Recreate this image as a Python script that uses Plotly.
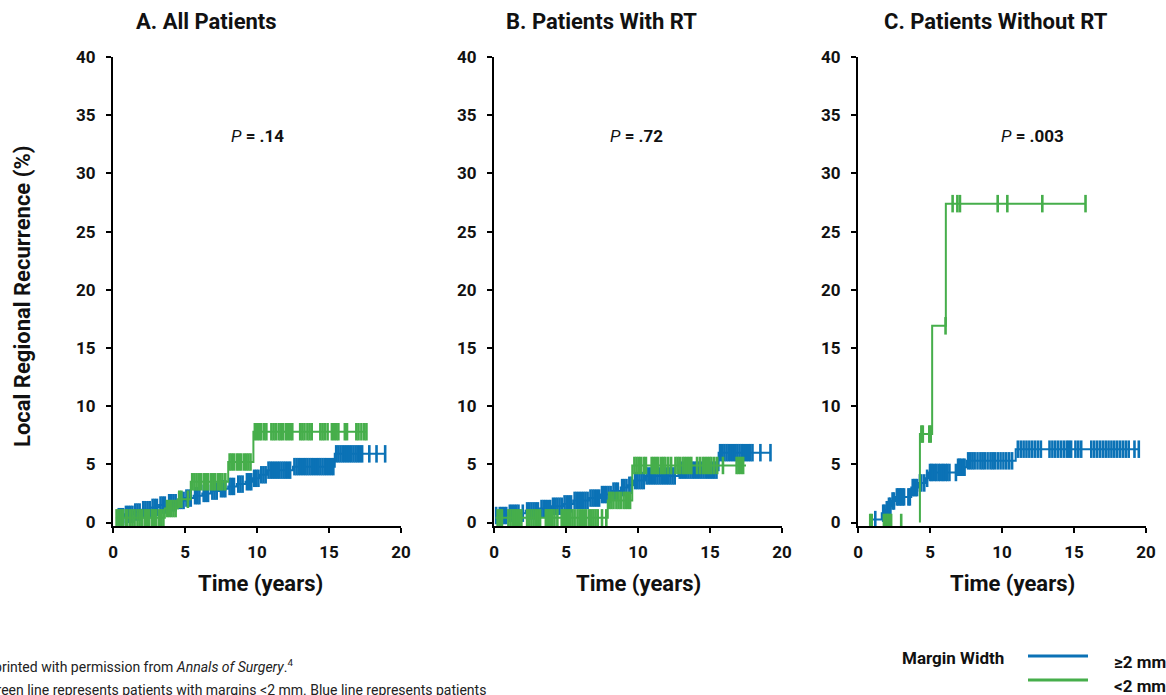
import numpy as np
import plotly.graph_objects as go

W, H = 1166, 695
BLUE = "#0B72B6"
GREEN = "#46AE4B"
FONT = "Roboto, Arial, sans-serif"
NARROW = "Liberation Sans Narrow, Roboto, Arial, sans-serif"

# ---------------- data ----------------
panel_titles = ["A. All Patients", "B. Patients With RT", "C. Patients Without RT"]
p_values = [".14", ".72", ".003"]
y_ticks = [0, 5, 10, 15, 20, 25, 30, 35, 40]
x_ticks = [0, 5, 10, 15, 20]
legend_labels = ["≥2 mm", "<2 mm"]

# Panel A - margins >=2 mm (blue)
a_ge2_t = [0.3, 0.8, 1.4, 2.0, 2.6, 3.2, 3.8, 4.5, 5.0, 5.6, 6.2, 6.8, 7.4, 8.0, 8.6, 9.2, 9.7, 10.2, 10.7, 12.5, 15.4]
a_ge2_v = [0.5, 0.7, 0.9, 1.1, 1.3, 1.5, 1.7, 1.9, 2.1, 2.3, 2.5, 2.7, 2.9, 3.1, 3.3, 3.5, 3.8, 4.1, 4.5, 4.8, 5.9]
a_ge2_end = 18.9
a_ge2_cens = [0.4, 0.55, 0.7, 0.9, 1.05, 1.2, 1.35, 1.55, 1.7, 1.85, 2.1, 2.25, 2.4, 2.55, 2.75, 2.9, 3.05,
              3.3, 3.45, 3.6, 3.9, 4.05, 4.2, 4.35, 4.6, 4.75, 4.9, 5.1, 5.25, 5.4, 5.7, 5.85, 6.0, 6.3, 6.45,
              6.6, 6.9, 7.05, 7.2, 7.5, 7.65, 7.8, 8.1, 8.25, 8.4, 8.7, 8.85, 9.0, 9.3, 9.45, 9.6, 9.8, 9.95,
              10.1, 10.3, 10.45, 10.6, 10.8, 10.95, 11.1, 11.25, 11.4, 11.55, 11.7, 11.85, 12.0, 12.15, 12.3,
              12.6, 12.75, 12.9, 13.05, 13.2, 13.35, 13.5, 13.65, 13.8, 13.95, 14.1, 14.25, 14.4, 14.55, 14.7,
              14.85, 15.0, 15.15, 15.3, 15.5, 15.65, 15.8, 15.95, 16.1, 16.25, 16.4, 16.55, 16.7, 16.85, 17.0,
              17.15, 17.3, 17.8, 18.3, 18.9]

# Panel A - margins <2 mm (green)
a_lt2_t = [0.2, 3.6, 4.5, 5.4, 8.0, 9.75]
a_lt2_v = [0.4, 1.2, 2.0, 3.5, 5.2, 7.8]
a_lt2_end = 17.6
a_lt2_cens = [0.25, 0.4, 0.55, 0.7, 0.9, 1.0, 1.2, 1.35, 1.5, 1.7, 1.85, 2.0, 2.2, 2.35, 2.5, 2.7, 2.85, 3.0,
              3.2, 3.35, 3.5, 3.75, 3.9, 4.05, 4.2, 4.35, 4.6, 4.75, 5.2, 5.5, 5.65, 5.8, 5.95, 6.1, 6.3, 6.45,
              6.6, 6.8, 6.95, 7.1, 7.3, 7.45, 7.6, 7.8, 8.1, 8.25, 8.4, 8.6, 8.75, 8.9, 9.1, 9.25, 9.4, 9.55,
              9.85, 10.0, 10.15, 10.3, 10.5, 10.65, 11.0, 11.15, 11.3, 11.5, 11.65, 11.8, 12.0, 12.15, 12.3,
              12.45, 13.0, 13.15, 13.3, 13.5, 13.65, 13.8, 14.4, 14.55, 14.7, 14.9, 15.2, 15.35, 15.5, 15.65,
              16.1, 16.25, 16.9, 17.05, 17.25, 17.45, 17.6]

# Panel B - margins >=2 mm (blue)
b_ge2_t = [0.1, 1.0, 2.2, 3.2, 4.0, 4.8, 5.5, 6.6, 7.4, 8.2, 8.8, 9.3, 9.7, 10.5, 12.8, 15.6]
b_ge2_v = [0.6, 0.8, 1.0, 1.2, 1.4, 1.6, 1.9, 2.1, 2.4, 2.7, 3.0, 3.2, 3.6, 4.0, 4.5, 6.0]
b_ge2_end = 19.2
b_ge2_cens = [0.15, 0.4, 0.55, 0.7, 0.85, 1.1, 1.25, 1.4, 1.55, 1.7, 2.0, 2.3, 2.45, 2.6, 2.75, 2.9, 3.05,
              3.3, 3.45, 3.6, 3.75, 3.9, 4.1, 4.25, 4.4, 4.55, 4.7, 4.9, 5.05, 5.2, 5.35, 5.6, 5.75, 5.9,
              6.05, 6.2, 6.35, 6.5, 6.7, 6.85, 7.0, 7.15, 7.3, 7.5, 7.65, 7.8, 7.95, 8.1, 8.3, 8.45, 8.6,
              8.9, 9.05, 9.2, 9.4, 9.55, 9.8, 9.95, 10.1, 10.25, 10.4, 10.6, 10.75, 10.9, 11.05, 11.2, 11.35,
              11.5, 11.65, 11.8, 11.95, 12.1, 12.25, 12.4, 12.55, 12.9, 13.05, 13.2, 13.35, 13.5, 13.65, 13.8,
              13.95, 14.1, 14.25, 14.4, 14.55, 14.7, 14.85, 15.0, 15.15, 15.3, 15.45, 15.7, 15.85, 16.0, 16.15,
              16.3, 16.45, 16.6, 16.75, 16.9, 17.05, 17.2, 17.35, 17.5, 17.65, 17.8, 17.95, 18.5, 19.2]

# Panel B - margins <2 mm (green)
b_lt2_t = [0.1, 7.9, 9.6]
b_lt2_v = [0.4, 1.9, 4.9]
b_lt2_end = 17.5
b_lt2_cens = [0.25, 0.4, 0.55, 1.0, 1.15, 1.3, 1.45, 1.6, 1.75, 1.9, 2.3, 2.45, 2.6, 2.75, 2.9, 3.05, 3.2,
              3.6, 3.75, 3.9, 4.05, 4.2, 4.4, 4.7, 4.85, 5.0, 5.15, 5.3, 5.45, 5.6, 5.8, 5.95, 6.1, 6.25, 6.4,
              6.6, 6.75, 6.9, 7.05, 7.2, 7.5, 7.8, 8.0, 8.15, 8.3, 8.5, 8.65, 8.8, 9.0, 9.15, 9.3, 9.45,
              9.75, 9.9, 10.05, 10.2, 10.4, 10.55, 10.95, 11.1, 11.25, 11.4, 11.6, 11.75, 11.9, 12.1, 12.3,
              12.6, 12.75, 12.9, 13.1, 13.25, 13.4, 13.55, 13.7, 14.1, 14.3, 14.5, 14.65, 14.8, 14.95, 15.1,
              15.3, 15.5, 15.9, 16.85, 17.0, 17.15, 17.3]

# Panel C - margins >=2 mm (blue)
c_ge2_t = [0.9, 1.65, 1.9, 2.1, 2.3, 2.6, 3.7, 4.2, 4.7, 4.9, 6.85, 7.55, 10.95]
c_ge2_v = [0.25, 0.8, 1.1, 1.4, 1.85, 2.2, 3.0, 3.4, 3.8, 4.3, 4.75, 5.3, 6.3]
c_ge2_end = 19.5
c_ge2_cens = [1.2, 1.75, 1.85, 2.0, 2.15, 2.25, 2.4, 2.5, 2.7, 2.8, 2.9, 3.0, 3.1, 3.2, 3.5, 3.6, 3.8, 3.9,
              4.0, 4.1, 4.3, 4.4, 4.6, 4.8, 5.0, 5.1, 5.2, 5.35, 5.45, 5.6, 5.7, 5.85, 5.95, 6.1, 6.2, 6.35,
              6.8, 6.95, 7.05, 7.15, 7.3, 7.4, 7.65, 7.8, 7.95, 8.1, 8.3, 8.5, 8.65, 8.8, 9.0, 9.2, 9.35, 9.5,
              9.7, 9.9, 10.1, 10.3, 10.5, 10.7, 11.1, 11.3, 11.5, 11.7, 11.9, 12.1, 12.3, 12.5, 12.7, 13.3,
              13.5, 13.7, 13.9, 14.1, 14.3, 14.5, 14.65, 14.8, 15.1, 15.3, 15.5, 16.2, 16.4, 16.6, 16.8, 17.0,
              17.2, 17.4, 17.6, 17.8, 18.0, 18.2, 18.4, 18.6, 18.8, 19.2, 19.5]

# Panel C - margins <2 mm (green)
c_lt2_t = [4.3, 4.3, 5.15, 6.1]
c_lt2_v = [0.0, 7.6, 16.9, 27.4]
c_lt2_end = 15.8
c_lt2_cens = [0.85, 0.95, 1.8, 1.9, 2.0, 2.1, 2.2, 2.3, 3.0, 4.4, 4.5, 4.95, 5.05, 6.08,
              6.57, 6.9, 7.08, 9.7, 10.37, 12.8, 15.8]

panels = [
    [(a_ge2_t, a_ge2_v, a_ge2_end, a_ge2_cens, BLUE), (a_lt2_t, a_lt2_v, a_lt2_end, a_lt2_cens, GREEN)],
    [(b_ge2_t, b_ge2_v, b_ge2_end, b_ge2_cens, BLUE), (b_lt2_t, b_lt2_v, b_lt2_end, b_lt2_cens, GREEN)],
    [(c_ge2_t, c_ge2_v, c_ge2_end, c_ge2_cens, BLUE), (c_lt2_t, c_lt2_v, c_lt2_end, c_lt2_cens, GREEN)],
]

# ---------------- layout geometry (pixels) ----------------
x_left = [113, 494, 858]
x_span = 288
y_top, y_bot = 57, 526
title_cx = [206, 601, 996]
xtitle_cx = [260, 638, 1012]
p_x = [10.0, 9.9, 12.15]


def px(x):
    return x / W


def py(y):
    return 1 - y / H


fig = go.Figure()

for i, curves in enumerate(panels):
    sfx = "" if i == 0 else str(i + 1)
    xa, ya = "x" + sfx, "y" + sfx
    for (t, v, end, cens, color) in curves:
        t_arr = np.array(t)
        xs = list(t) + [end]
        ys = list(v) + [v[-1]]
        fig.add_trace(go.Scatter(x=xs, y=ys, mode="lines", line=dict(color=color, width=2, shape="hv"),
                                 xaxis=xa, yaxis=ya, showlegend=False, hoverinfo="skip"))
        idx = [max(int(np.searchsorted(t_arr, c, side="right")) - 1, 0) for c in cens]
        cy = [v[k] for k in idx]
        fig.add_trace(go.Scatter(x=cens, y=cy, mode="markers",
                                 marker=dict(symbol="line-ns", size=12.5, line=dict(color=color, width=2.6)),
                                 xaxis=xa, yaxis=ya, showlegend=False, hoverinfo="skip"))

    axis_common = dict(showline=True, linecolor="black", linewidth=2, ticks="outside", ticklen=5,
                       tickwidth=2, tickcolor="black", showgrid=False, zeroline=False, automargin=False,
                       tickfont=dict(family=FONT, size=17, color="#111", weight="bold"))
    fig.update_layout(**{
        "xaxis" + sfx: dict(domain=[px(x_left[i]), px(x_left[i] + x_span)], range=[0, 20],
                            tickvals=x_ticks, anchor=ya, ticklabelstandoff=5, **axis_common),
        "yaxis" + sfx: dict(domain=[py(y_bot), py(y_top)], range=[-0.3, 40], tickvals=y_ticks,
                            anchor=xa, ticklabelstandoff=7, **axis_common),
    })
    # panel titles
    fig.add_annotation(x=px(title_cx[i]), y=py(22), xref="paper", yref="paper", text=panel_titles[i],
                       showarrow=False, font=dict(family=FONT, size=22, color="#111", weight="bold"),
                       xanchor="center", yanchor="middle")
    # x titles
    fig.add_annotation(x=px(xtitle_cx[i]), y=py(583), xref="paper", yref="paper", text="Time (years)",
                       showarrow=False, font=dict(family=FONT, size=22, color="#111", weight="bold"),
                       xanchor="center", yanchor="middle")
    # P values
    fig.add_annotation(x=p_x[i], y=33.2, xref=xa, yref=ya,
                       text="<i>P</i><b> = " + p_values[i] + "</b>", showarrow=False,
                       font=dict(family=FONT, size=17, color="#111"), xanchor="center", yanchor="middle")

# y axis title
fig.add_annotation(x=px(22), y=py(297), xref="paper", yref="paper", text="Local Regional Recurrence (%)",
                   textangle=-90, showarrow=False,
                   font=dict(family=FONT, size=22, color="#111", weight="bold"),
                   xanchor="center", yanchor="middle")

# footnotes (cut off at the left edge as in the source)
fig.add_annotation(x=px(295), y=py(666), xref="paper", yref="paper",
                   text="Reprinted with permission from <i>Annals of Surgery</i>.<sup>4</sup>",
                   showarrow=False, font=dict(family=NARROW, size=14, color="#222"),
                   xanchor="right", yanchor="middle")
fig.add_annotation(x=px(488), y=py(690), xref="paper", yref="paper",
                   text="Green line represents patients with margins &lt;2 mm. Blue line represents patients",
                   showarrow=False, font=dict(family=NARROW, size=14, color="#222"),
                   xanchor="right", yanchor="middle")

# legend
fig.add_annotation(x=px(953), y=py(658), xref="paper", yref="paper", text="Margin Width", showarrow=False,
                   font=dict(family=FONT, size=17, color="#111", weight="bold"),
                   xanchor="center", yanchor="middle")
for (color, ly, label, lty) in [(BLUE, 656, legend_labels[0], 662), (GREEN, 680, legend_labels[1], 686)]:
    fig.add_shape(type="line", xref="paper", yref="paper", x0=px(1028), x1=px(1088), y0=py(ly), y1=py(ly),
                  line=dict(color=color, width=3))
    fig.add_annotation(x=px(1112), y=py(lty), xref="paper", yref="paper", text=label, showarrow=False,
                       font=dict(family=FONT, size=17, color="#111", weight="bold"),
                       xanchor="left", yanchor="middle")

fig.update_layout(width=W, height=H, margin=dict(l=0, r=0, t=0, b=0, autoexpand=False),
                  paper_bgcolor="white", plot_bgcolor="white", showlegend=False)

fig.write_html("out.html", config={"displayModeBar": False},
               post_script="document.body.style.margin='0px';document.body.style.padding='0px';")
